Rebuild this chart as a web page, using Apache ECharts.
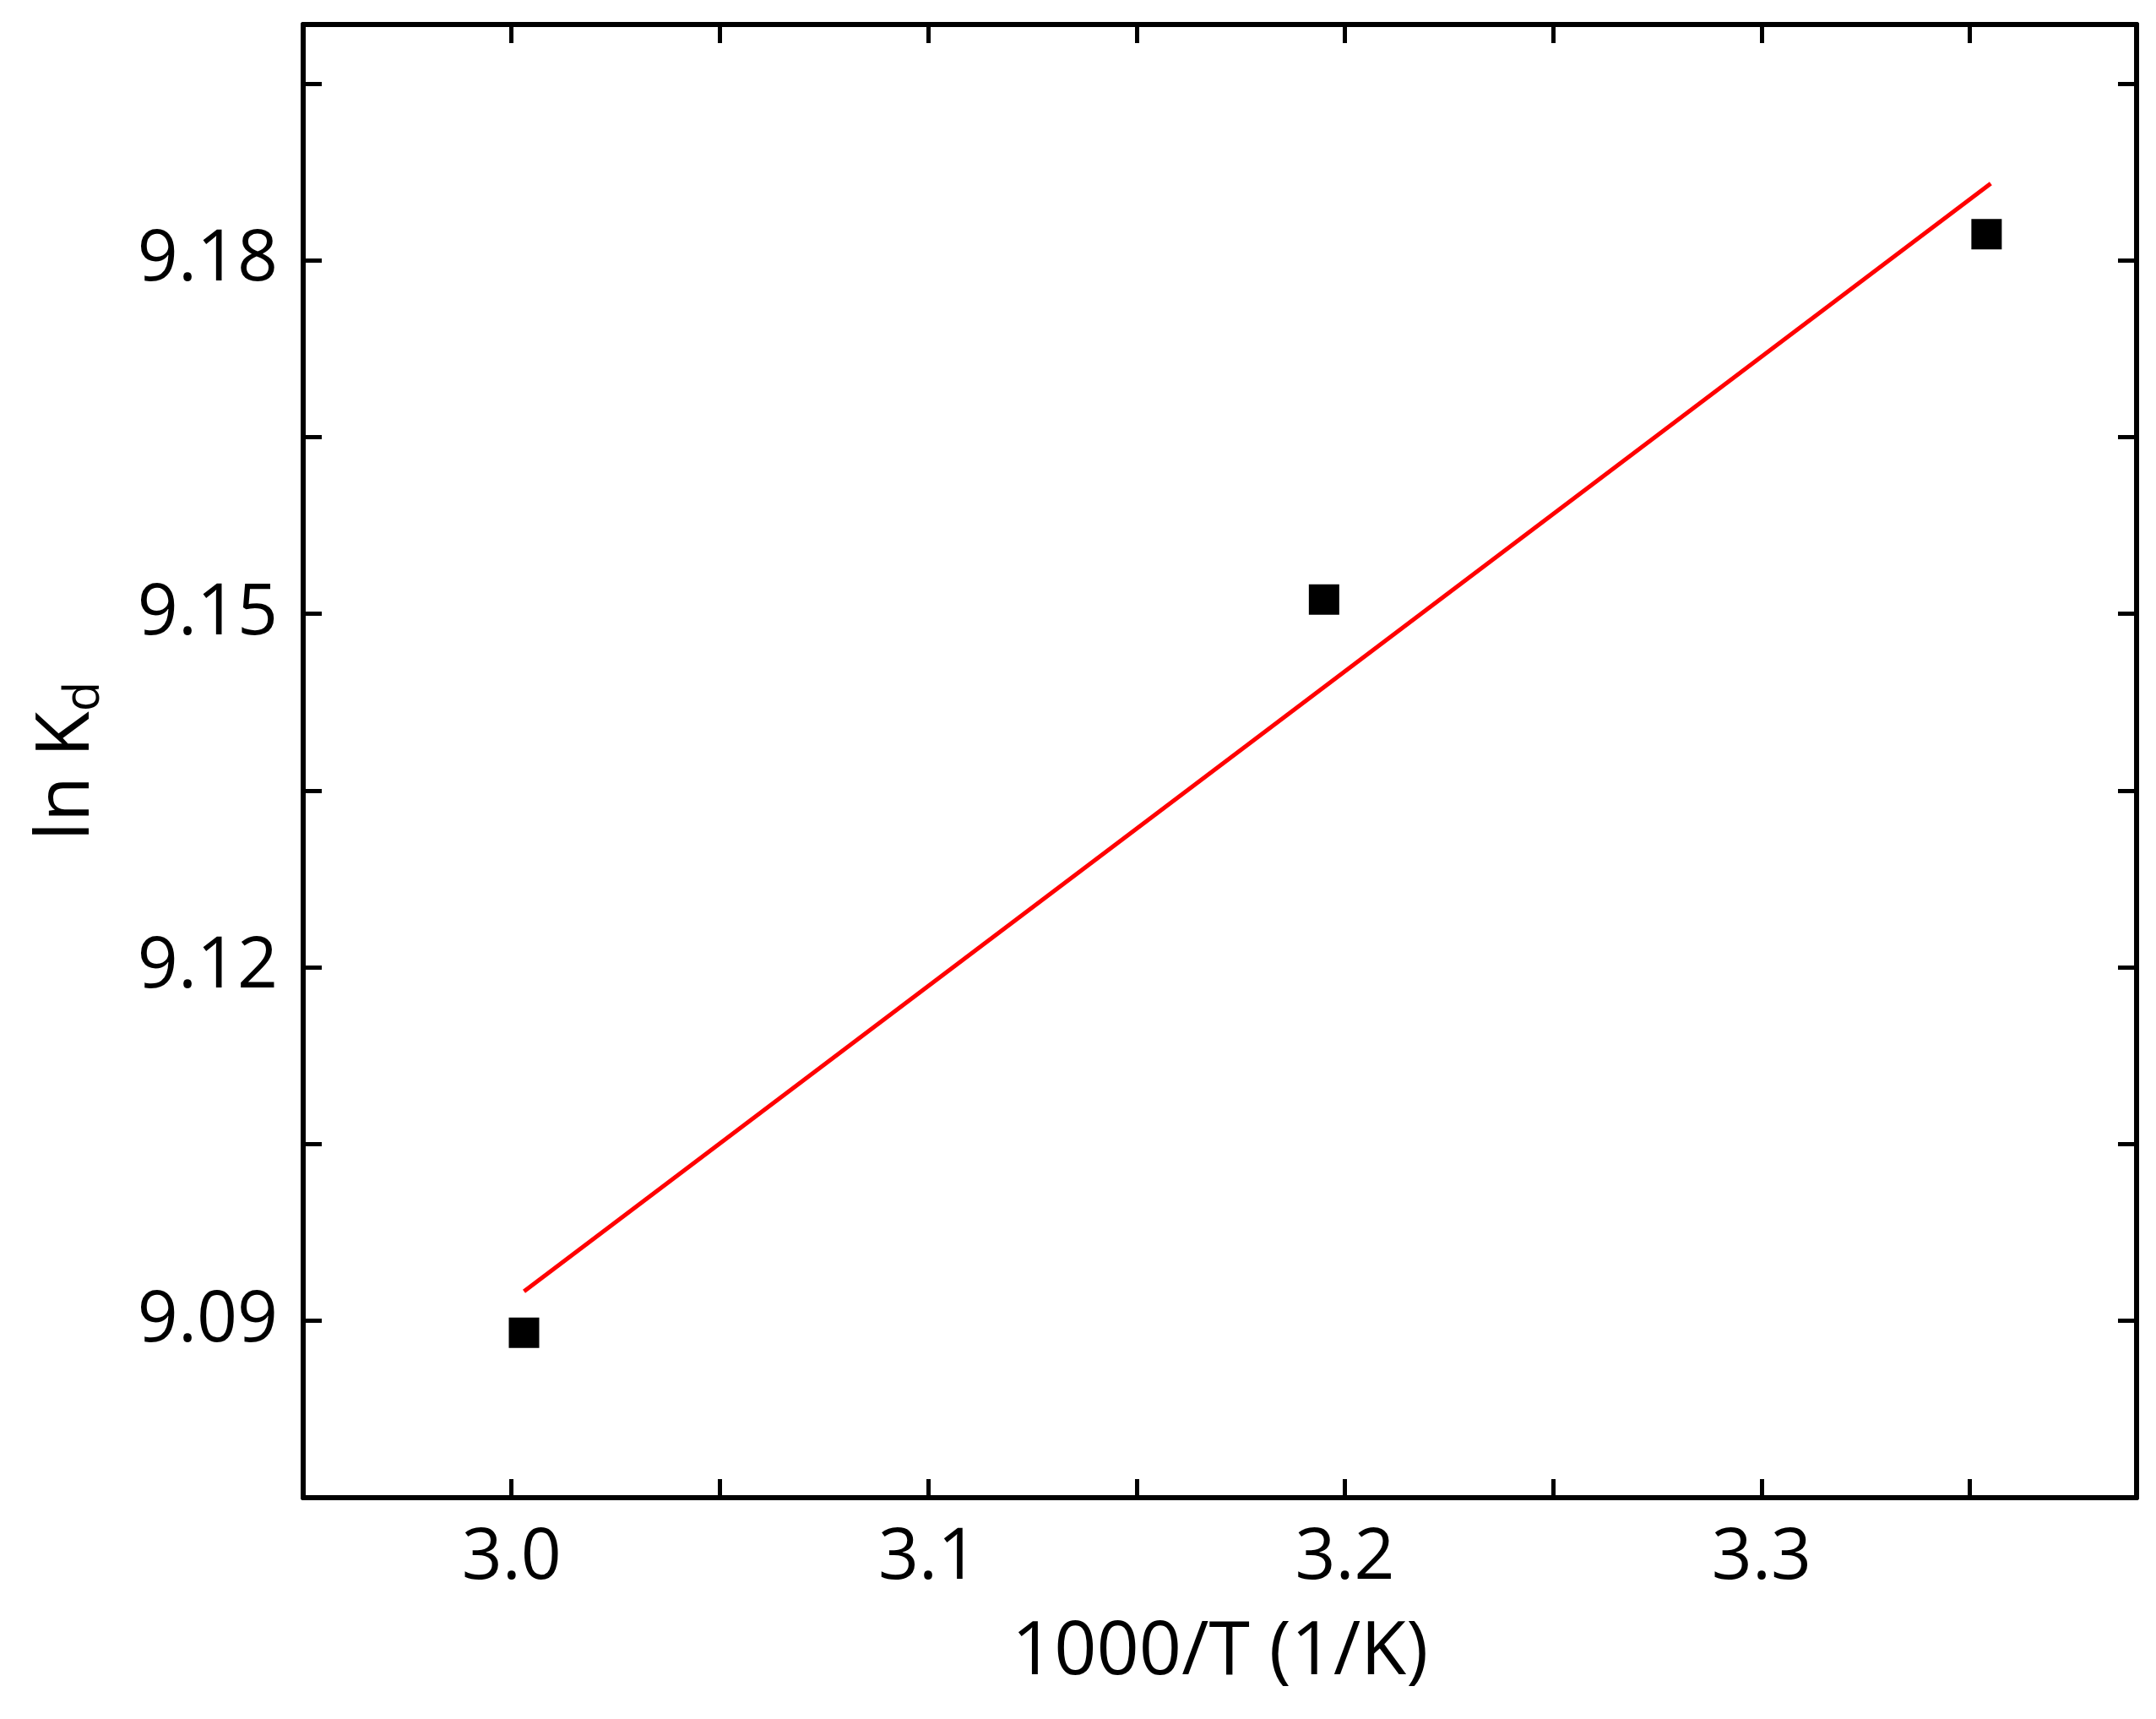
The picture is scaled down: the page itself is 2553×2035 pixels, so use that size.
<!DOCTYPE html>
<html>
<head>
<meta charset="utf-8">
<script src="https://cdn.jsdelivr.net/npm/echarts@6/dist/echarts.min.js"></script>
<style>html,body{margin:0;padding:0;background:#fff}#c{width:2553px;height:2035px}</style>
</head>
<body>
<div id="c"></div>
<script>
// measured points
var xVals = [3.003, 3.195, 3.354];
var yVals = [9.089, 9.1512, 9.1822];
// linear fit line endpoints
var fitX = [3.003, 3.355];
var fitY = [9.0925, 9.1865];

var font = "Open Sans";
var pts = xVals.map(function (x, i) { return [x, yVals[i]]; });
var fit = fitX.map(function (x, i) { return [x, fitY[i]]; });

function near(v, step) {
  var r = v / step;
  return Math.abs(r - Math.round(r)) < 1e-6;
}

var axisLine = { show: true, onZero: false, lineStyle: { color: '#000', width: 6 } };
var tick = { show: true, inside: true, length: 22, lineStyle: { color: '#000', width: 5 } };

var chart = echarts.init(document.getElementById('c'));
chart.setOption({
  animation: false,
  grid: { left: 359, right: 23, top: 29, bottom: 262 },
  xAxis: [{
    type: 'value', min: 2.95, max: 3.39, interval: 0.05,
    name: '1000/T (1/K)', nameLocation: 'middle', nameGap: 140,
    nameTextStyle: { fontFamily: font, fontSize: 88, color: '#000' },
    axisLine: axisLine, axisTick: tick, splitLine: { show: false },
    axisLabel: {
      fontFamily: font, fontSize: 84, color: '#000', margin: 30,
      formatter: function (v) { return near(v, 0.1) ? v.toFixed(1) : ''; }
    }
  }, {
    type: 'value', position: 'top', min: 2.95, max: 3.39, interval: 0.05,
    axisLine: axisLine, axisTick: tick, axisLabel: { show: false }, splitLine: { show: false }
  }],
  yAxis: [{
    type: 'value', min: 9.075, max: 9.2, interval: 0.015,
    name: '{a|ln K}{b|d}', nameLocation: 'middle', nameGap: 230,
    nameTextStyle: {
      rich: {
        a: { fontFamily: font, fontSize: 88, color: '#000' },
        b: { fontFamily: font, fontSize: 58, color: '#000', padding: [40, 0, 0, 0] }
      }
    },
    axisLine: axisLine, axisTick: tick, splitLine: { show: false },
    axisLabel: {
      fontFamily: font, fontSize: 84, color: '#000', margin: 30,
      formatter: function (v) { return near(v, 0.03) ? v.toFixed(2) : ''; }
    }
  }, {
    type: 'value', position: 'right', min: 9.075, max: 9.2, interval: 0.015,
    axisLine: axisLine, axisTick: tick, axisLabel: { show: false }, splitLine: { show: false }
  }],
  series: [{
    type: 'line', data: fit, showSymbol: false, symbol: 'none',
    lineStyle: { color: '#ff0000', width: 5 }
  }, {
    type: 'scatter', data: pts, symbol: 'rect', symbolSize: 36,
    itemStyle: { color: '#000', opacity: 1 }
  }]
});
</script>
</body>
</html>
